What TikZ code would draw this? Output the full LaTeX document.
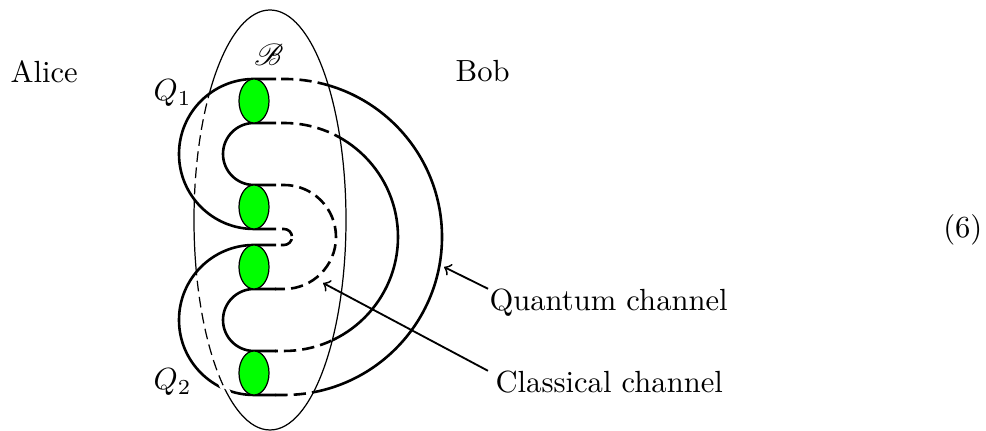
\documentclass[tikz,border=0pt]{standalone}
\usepackage{mathrsfs}
\definecolor{qgreen}{RGB}{0,255,0}
\begin{document}
\begin{tikzpicture}[x=0.3268pt,y=0.3268pt,
  curve/.style={line width=0.85pt},
  hid/.style={line width=0.85pt, dash pattern=on 4pt off 2pt, dash phase=4pt},
  shell/.style={line width=0.4pt},
  shellhid/.style={line width=0.4pt, dash pattern=on 3.5pt off 1.8pt},
  qubit/.style={draw=black, line width=0.4pt, fill=qgreen},
  lbl/.style={inner sep=0pt, anchor=base west},
  pointer/.style={line width=0.6pt, ->}]
\useasboundingbox (0,0) rectangle (986,431);

% right-hand arcs: dashed inside the shell, solid outside
\begin{scope}
  \clip (270,211) ellipse[x radius=76, y radius=210];
  \draw[hid] (275,352) -- (284,352) arc[start angle=90, end angle=-90, radius=158] -- (275,36);
  \draw[hid] (275,308) -- (284,308) arc[start angle=90, end angle=-90, radius=114] -- (275,80);
\end{scope}
\begin{scope}[even odd rule]
  \clip (-20,-20) rectangle (1006,451) (270,211) ellipse[x radius=76, y radius=210];
  \draw[curve] (275,352) -- (284,352) arc[start angle=90, end angle=-90, radius=158] -- (275,36);
  \draw[curve] (275,308) -- (284,308) arc[start angle=90, end angle=-90, radius=114] -- (275,80);
\end{scope}
\draw[hid] (275,246) -- (284,246) arc[start angle=90, end angle=-90, radius=52] -- (275,142);
\draw[line width=0.85pt, dash pattern=on 0pt off 2pt on 4.4pt off 1pt on 4.4pt off 10pt]
  (276,202) -- (284,202) arc[start angle=90, end angle=-90, radius=8] -- (276,186);

% left-hand loops
\draw[curve] (276,352) -- (254,352) arc[start angle=90, end angle=270, radius=75] -- (276,202);
\draw[curve] (276,308) -- (254,308) arc[start angle=90, end angle=270, radius=31] -- (276,246);
\draw[curve] (276,186) -- (254,186) arc[start angle=90, end angle=270, radius=75] -- (276,36);
\draw[curve] (276,142) -- (254,142) arc[start angle=90, end angle=270, radius=31] -- (276,80);

% the shell B
\begin{scope}
  \clip (195,30) rectangle (240,62);
  \draw[white, line width=2.5pt] (270,211) ellipse[x radius=76, y radius=210];
\end{scope}
\begin{scope}[even odd rule]
  \clip (-20,-20) rectangle (1006,451) (254,277) circle[radius=75] (254,111) circle[radius=75];
  \draw[shell] (270,211) ellipse[x radius=76, y radius=210];
\end{scope}
\begin{scope}
  \clip (254,277) circle[radius=75] (254,111) circle[radius=75];
  \draw[shellhid] (270,211) ellipse[x radius=76, y radius=210];
\end{scope}

% qubits
\filldraw[qubit] (254,330) ellipse[x radius=15, y radius=22];
\filldraw[qubit] (254,224) ellipse[x radius=15, y radius=22];
\filldraw[qubit] (254,164) ellipse[x radius=15, y radius=22];
\filldraw[qubit] (254,58) ellipse[x radius=15, y radius=22];

% labels
\node[lbl] (alice) at (10,348) {Alice};
\node[lbl] (bob) at (455,349) {Bob};
\node[inner sep=0pt, anchor=base] (bset) at (269,365) {$\mathscr{B}$};
\node[lbl] (q1lab) at (153,330) {$Q_1$};
\node[lbl] (q2lab) at (153,41) {$Q_2$};
\node[lbl] (qc) at (489,120) {Quantum channel};
\node[lbl] (cc) at (495,38) {Classical channel};
\node[inner sep=0pt, anchor=base east] (eqno) at (983,193) {(6)};

\coordinate (qtip) at (444,164);
\coordinate (ctip) at (323,148);
\draw[pointer] ([xshift=-0.3pt]qc.north west) -- (qtip);
\draw[pointer] ([xshift=-2.3pt]cc.north west) -- (ctip);
\end{tikzpicture}
\end{document}
